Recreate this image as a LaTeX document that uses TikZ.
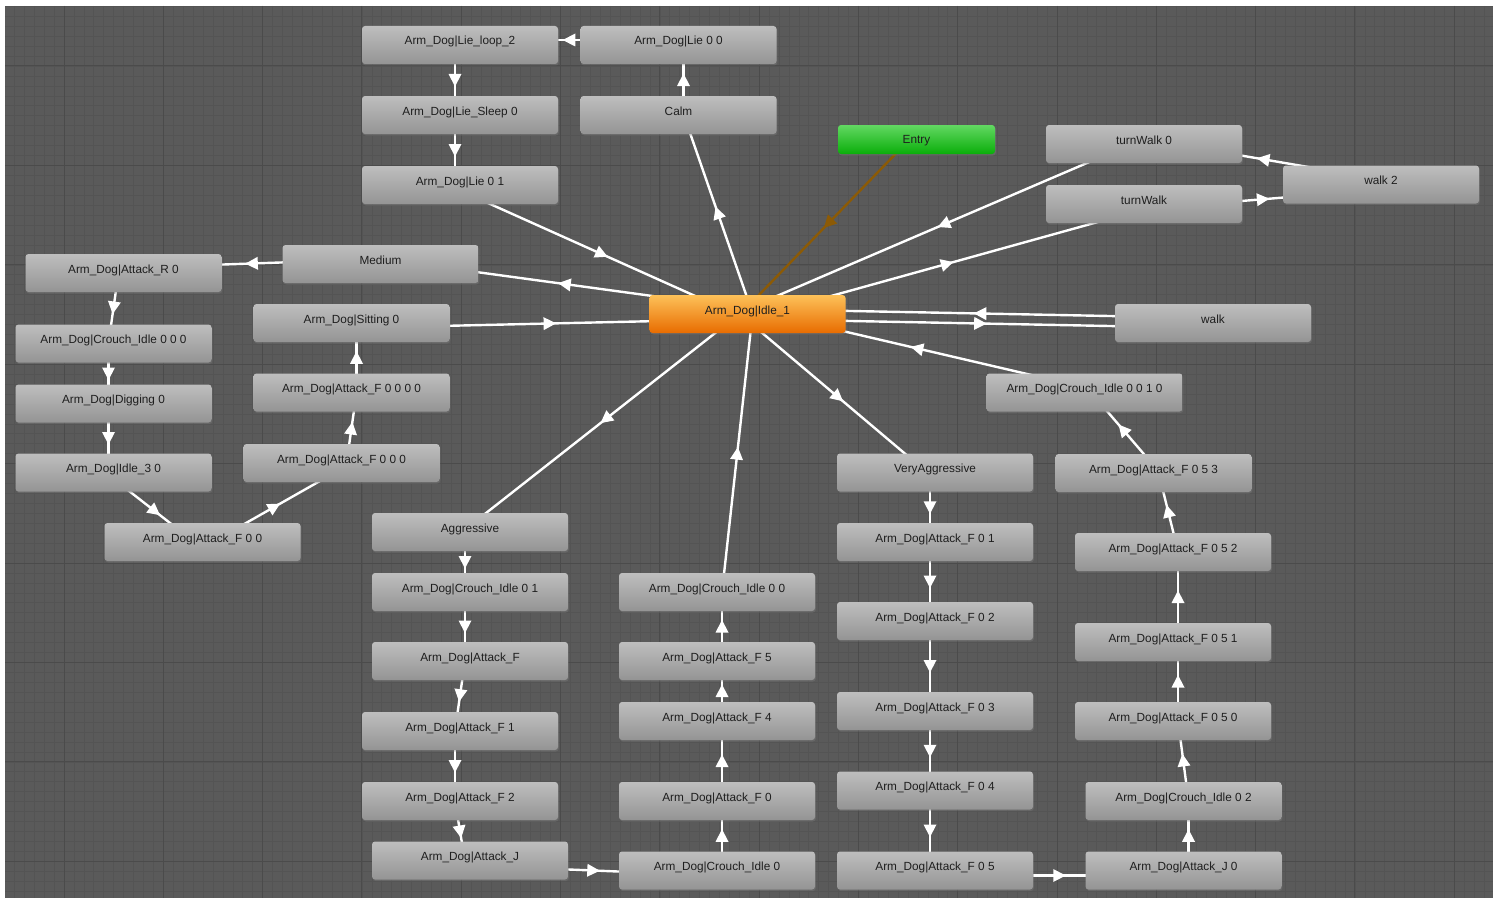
\documentclass[tikz,border=0pt]{standalone}
\usepackage{fontspec}
\setmainfont{Liberation Sans}
\usetikzlibrary{calc}
\usetikzlibrary{decorations.markings}
\usetikzlibrary{shadows}

\definecolor{gridbg}{HTML}{5A5A5A}
\definecolor{gridminor}{HTML}{545454}
\definecolor{gridmajor}{HTML}{4B4B4B}
\definecolor{nodetop}{HTML}{BEBEBE}
\definecolor{nodebot}{HTML}{949494}
\definecolor{nodetext}{HTML}{1E1E1E}
\definecolor{idletop}{HTML}{FDC159}
\definecolor{idlebot}{HTML}{E86C00}
\definecolor{entrytop}{HTML}{62D862}
\definecolor{entrybot}{HTML}{0AAE0A}
\definecolor{entrylink}{HTML}{8C5A05}

\pgfdeclarelayer{grid}
\pgfdeclarelayer{links}
\pgfsetlayers{grid,links,main}

% transition: shifted to the right of its direction, tip in the middle
\newcommand{\statelink}[3][white]{%
  \draw [link=#1] ($(#2)!5pt!-90:(#3)$) -- ($(#3)!5pt!90:(#2)$);}

\begin{document}
\begin{tikzpicture}[x=1pt, y=-1pt,
    state/.style={rounded corners=3pt, top color=nodetop, bottom color=nodebot,
      minimum width=196pt, minimum height=38pt, inner sep=0pt, text=nodetext,
      font=\fontsize{11.8}{13}\selectfont, text height=8.5pt, text depth=8.5pt,
      drop shadow={shadow xshift=.8pt, shadow yshift=-1.5pt, opacity=.35}},
    idlestate/.style={state, top color=idletop, bottom color=idlebot},
    entrystate/.style={state, top color=entrytop, bottom color=entrybot,
      minimum width=157pt, minimum height=29pt, text height=8.5pt, text depth=0pt},
    link/.style={draw=#1, line width=2.4pt, postaction={decorate},
      decoration={markings, mark=at position .5 with
        {\fill [#1] (6.5pt,0) -- (-6pt,6.5pt) -- (-6pt,-6.5pt) -- cycle;}}}]

    \useasboundingbox (0,0) rectangle (1496,899);

    % grid
    \begin{pgfonlayer}{grid}
    \fill [gridbg] (5,6) rectangle (1493,898);
    \begin{scope}
    \clip (5,6) rectangle (1493,898);
    \foreach \i in {-6,...,144}
        \draw [gridminor, line width=.6pt] ({64+9.93*\i},6) -- ({64+9.93*\i},898);
    \foreach \j in {-6,...,84}
        \draw [gridminor, line width=.6pt] (5,{66+9.94*\j}) -- (1493,{66+9.94*\j});
    \foreach \i in {-1,...,14}
        \draw [gridmajor, line width=1pt] ({64+99.3*\i},6) -- ({64+99.3*\i},898);
    \foreach \j in {-1,...,8}
        \draw [gridmajor, line width=1pt] (5,{66+99.4*\j}) -- (1493,{66+99.4*\j});
    \end{scope}
    \end{pgfonlayer}

    % lie
    \node [state] (lieLoop) at (460,45) {Arm\_Dog|Lie\_loop\_2};
    \node [state] (lieZero) at (678.5,45) {Arm\_Dog|Lie 0 0};
    \node [state] (lieSleep) at (460,115) {Arm\_Dog|Lie\_Sleep 0};
    \node [state] (calm) at (678.5,115) {Calm};
    \node [state] (lieOne) at (460,185) {Arm\_Dog|Lie 0 1};

    % entry, idle, walking
    \node [entrystate] (entry) at (916.5,139.5) {Entry};
    \node [idlestate] (idle) at (747.5,314) {Arm\_Dog|Idle\_1};
    \node [state] (turnWalkZero) at (1144,144) {turnWalk 0};
    \node [state] (turnWalk) at (1144,204) {turnWalk};
    \node [state] (walkTwo) at (1381,184.5) {walk 2};
    \node [state] (walk) at (1213,323) {walk};

    % medium
    \node [state] (medium) at (380.5,264) {Medium};
    \node [state] (attackR) at (123.5,273) {Arm\_Dog|Attack\_R 0};
    \node [state] (crouchOOO) at (113.5,343.5) {Arm\_Dog|Crouch\_Idle 0 0 0};
    \node [state] (digging) at (113.5,403.5) {Arm\_Dog|Digging 0};
    \node [state] (idleThree) at (113.5,472.5) {Arm\_Dog|Idle\_3 0};
    \node [state] (attackFOO) at (202.5,542) {Arm\_Dog|Attack\_F 0 0};
    \node [state] (attackFOOO) at (341.5,463) {Arm\_Dog|Attack\_F 0 0 0};
    \node [state] (attackFOOOO) at (351.5,392.5) {Arm\_Dog|Attack\_F 0 0 0 0};
    \node [state] (sitting) at (351.5,323) {Arm\_Dog|Sitting 0};

    % aggressive
    \node [state] (aggressive) at (470,532) {Aggressive};
    \node [state] (crouchOOne) at (470,592) {Arm\_Dog|Crouch\_Idle 0 1};
    \node [state] (attackF) at (470,661) {Arm\_Dog|Attack\_F};
    \node [state] (attackFOne) at (460,731) {Arm\_Dog|Attack\_F 1};
    \node [state] (attackFTwo) at (460,801) {Arm\_Dog|Attack\_F 2};
    \node [state] (attackJ) at (470,860.5) {Arm\_Dog|Attack\_J};
    \node [state] (crouchZero) at (717,870.5) {Arm\_Dog|Crouch\_Idle 0};
    \node [state] (attackFZero) at (717,801) {Arm\_Dog|Attack\_F 0};
    \node [state] (attackFFour) at (717,721) {Arm\_Dog|Attack\_F 4};
    \node [state] (attackFFive) at (717,661) {Arm\_Dog|Attack\_F 5};
    \node [state] (crouchOO) at (717,592) {Arm\_Dog|Crouch\_Idle 0 0};

    % very aggressive
    \node [state] (veryAgg) at (935,472.5) {VeryAggressive};
    \node [state] (attackFOOne) at (935,542) {Arm\_Dog|Attack\_F 0 1};
    \node [state] (attackFOTwo) at (935,621) {Arm\_Dog|Attack\_F 0 2};
    \node [state] (attackFOThree) at (935,711) {Arm\_Dog|Attack\_F 0 3};
    \node [state] (attackFOFour) at (935,790.5) {Arm\_Dog|Attack\_F 0 4};
    \node [state] (attackFOFive) at (935,870.5) {Arm\_Dog|Attack\_F 0 5};
    \node [state] (attackJZero) at (1183.5,870.5) {Arm\_Dog|Attack\_J 0};
    \node [state] (crouchOTwo) at (1183.5,801) {Arm\_Dog|Crouch\_Idle 0 2};
    \node [state] (attackFFiZero) at (1173,721) {Arm\_Dog|Attack\_F 0 5 0};
    \node [state] (attackFFiOne) at (1173,642) {Arm\_Dog|Attack\_F 0 5 1};
    \node [state] (attackFFiTwo) at (1173,552) {Arm\_Dog|Attack\_F 0 5 2};
    \node [state] (attackFFiThree) at (1153.5,473) {Arm\_Dog|Attack\_F 0 5 3};
    \node [state] (crouchOOOne) at (1084.5,392.5) {Arm\_Dog|Crouch\_Idle 0 0 1 0};

    \begin{pgfonlayer}{links}
    % lie
    \statelink{lieZero}{lieLoop}
    \statelink{lieLoop}{lieSleep}
    \statelink{lieSleep}{lieOne}
    \statelink{calm}{lieZero}
    \statelink{lieOne}{idle}
    \statelink{idle}{calm}

    % entry, walking
    \statelink[entrylink]{entry}{idle}
    \statelink{turnWalkZero}{idle}
    \statelink{idle}{turnWalk}
    \statelink{walkTwo}{turnWalkZero}
    \statelink{turnWalk}{walkTwo}
    \statelink{walk}{idle}
    \statelink{idle}{walk}

    % medium
    \statelink{idle}{medium}
    \statelink{medium}{attackR}
    \statelink{attackR}{crouchOOO}
    \statelink{crouchOOO}{digging}
    \statelink{digging}{idleThree}
    \statelink{idleThree}{attackFOO}
    \statelink{attackFOO}{attackFOOO}
    \statelink{attackFOOO}{attackFOOOO}
    \statelink{attackFOOOO}{sitting}
    \statelink{sitting}{idle}

    % aggressive
    \statelink{idle}{aggressive}
    \statelink{aggressive}{crouchOOne}
    \statelink{crouchOOne}{attackF}
    \statelink{attackF}{attackFOne}
    \statelink{attackFOne}{attackFTwo}
    \statelink{attackFTwo}{attackJ}
    \statelink{attackJ}{crouchZero}
    \statelink{crouchZero}{attackFZero}
    \statelink{attackFZero}{attackFFour}
    \statelink{attackFFour}{attackFFive}
    \statelink{attackFFive}{crouchOO}
    \statelink{crouchOO}{idle}

    % very aggressive
    \statelink{idle}{veryAgg}
    \statelink{veryAgg}{attackFOOne}
    \statelink{attackFOOne}{attackFOTwo}
    \statelink{attackFOTwo}{attackFOThree}
    \statelink{attackFOThree}{attackFOFour}
    \statelink{attackFOFour}{attackFOFive}
    \statelink{attackFOFive}{attackJZero}
    \statelink{attackJZero}{crouchOTwo}
    \statelink{crouchOTwo}{attackFFiZero}
    \statelink{attackFFiZero}{attackFFiOne}
    \statelink{attackFFiOne}{attackFFiTwo}
    \statelink{attackFFiTwo}{attackFFiThree}
    \statelink{attackFFiThree}{crouchOOOne}
    \statelink{crouchOOOne}{idle}
    \end{pgfonlayer}

\end{tikzpicture}
\end{document}
